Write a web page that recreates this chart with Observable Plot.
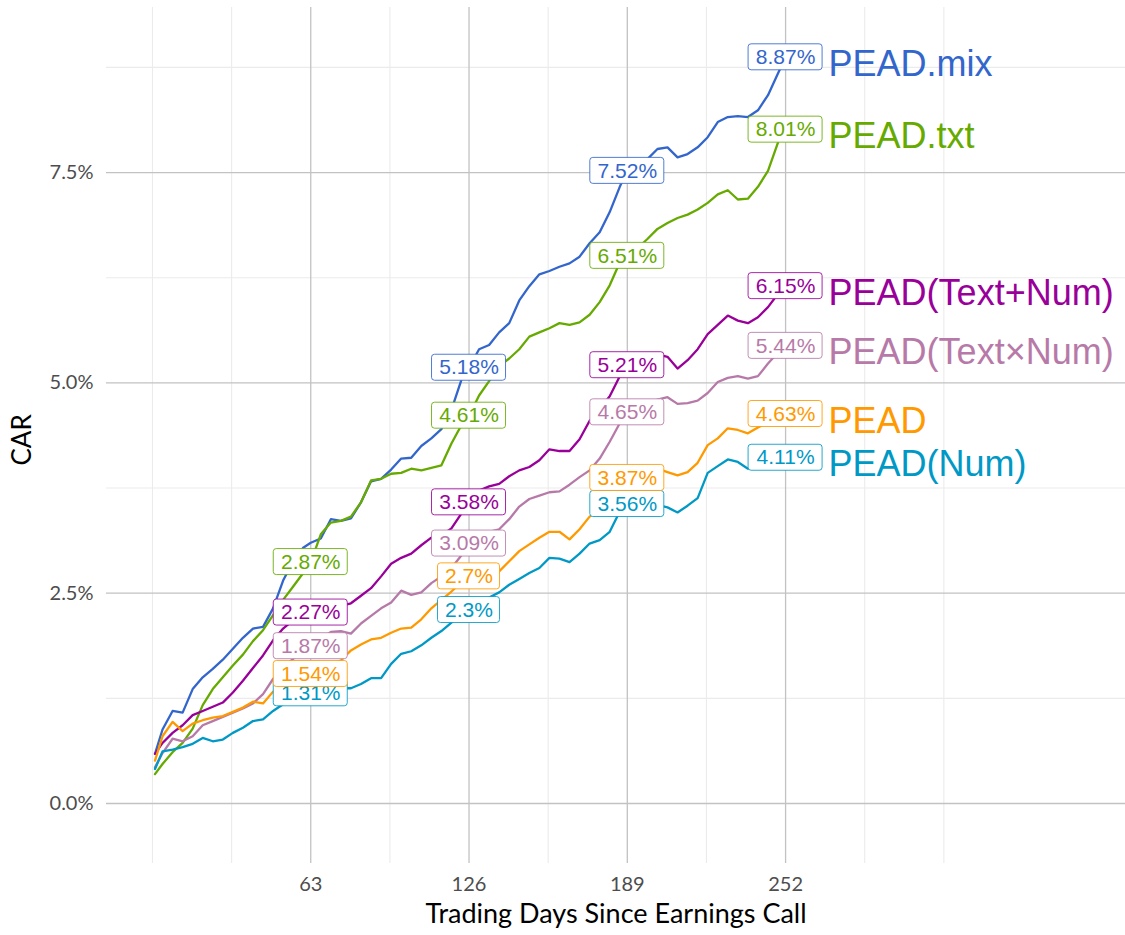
<!DOCTYPE html>
<html><head><meta charset="utf-8">
<script src="https://cdn.jsdelivr.net/npm/d3@7"></script>
<script src="https://cdn.jsdelivr.net/npm/@observablehq/plot@0.6"></script>
<style>body{margin:0;background:#fff}</style>
</head><body><div id="chart"></div>
<script>
// ---- data ----
const days = [1,4,8,12,16,20,24,28,32,36,40,44,48,52,56,60,63,67,71,75,79,83,87,91,95,99,103,107,111,115,119,123,126,130,134,138,142,146,150,154,158,162,166,170,174,178,182,186,189,193,197,201,205,209,213,217,221,225,229,233,237,241,245,249,252];

const seriesNames = ["PEAD.mix","PEAD.txt","PEAD(Text+Num)","PEAD(Text×Num)","PEAD","PEAD(Num)"];
const seriesColors = ["#3366CC","#66AA00","#990099","#B77AA8","#FF9900","#0099C6"];

const mixVals = [0.59,0.88,1.10,1.08,1.36,1.50,1.60,1.71,1.84,1.97,2.08,2.10,2.32,2.65,2.88,3.04,
  3.10,
  3.15,3.38,3.36,3.39,3.58,3.83,3.86,3.97,4.10,4.11,4.25,4.34,4.45,4.68,5.04,
  5.18,
  5.40,5.45,5.60,5.71,5.98,6.15,6.29,6.33,6.38,6.42,6.50,6.66,6.79,7.03,7.33,
  7.52,
  7.62,7.66,7.78,7.80,7.68,7.72,7.80,7.92,8.10,8.16,8.17,8.16,8.24,8.42,8.68,
  8.87];
const txtVals = [0.35,0.47,0.61,0.72,0.89,1.17,1.36,1.50,1.64,1.77,1.93,2.06,2.24,2.42,2.58,2.74,
  2.87,
  3.20,3.34,3.36,3.41,3.58,3.84,3.86,3.92,3.93,3.98,3.96,3.99,4.02,4.28,4.50,
  4.61,
  4.85,5.02,5.20,5.29,5.40,5.55,5.60,5.65,5.71,5.69,5.72,5.81,5.96,6.16,6.43,
  6.51,
  6.60,6.71,6.83,6.90,6.96,7.00,7.06,7.14,7.24,7.29,7.18,7.19,7.33,7.52,7.86,
  8.01];
const textPlusNumVals = [0.59,0.72,0.84,0.93,1.05,1.10,1.15,1.20,1.32,1.46,1.61,1.76,1.94,2.08,2.18,2.24,
  2.27,
  2.30,2.33,2.35,2.38,2.47,2.56,2.70,2.85,2.92,2.97,3.07,3.16,3.19,3.27,3.45,
  3.58,
  3.72,3.77,3.80,3.89,3.96,4.00,4.08,4.21,4.19,4.19,4.33,4.55,4.69,4.84,5.08,
  5.21,
  5.26,5.30,5.34,5.31,5.17,5.27,5.40,5.58,5.69,5.80,5.74,5.71,5.78,5.90,6.06,
  6.15];
const textTimesNumVals = [0.43,0.60,0.77,0.74,0.80,0.93,0.98,1.03,1.08,1.13,1.19,1.30,1.48,1.62,1.72,1.81,
  1.87,
  1.95,2.04,2.05,2.02,2.14,2.23,2.32,2.39,2.53,2.48,2.51,2.62,2.70,2.80,2.95,
  3.09,
  3.18,3.23,3.26,3.38,3.53,3.62,3.66,3.70,3.71,3.79,3.88,3.96,4.10,4.30,4.52,
  4.65,
  4.70,4.76,4.80,4.83,4.75,4.76,4.79,4.88,5.01,5.06,5.08,5.05,5.08,5.23,5.36,
  5.44];
const peadVals = [0.51,0.80,0.97,0.86,0.95,0.99,1.02,1.04,1.09,1.14,1.21,1.19,1.33,1.40,1.45,1.50,
  1.54,
  1.60,1.66,1.70,1.82,1.89,1.95,1.97,2.03,2.08,2.09,2.19,2.32,2.42,2.52,2.63,
  2.70,
  2.66,2.70,2.76,2.88,3.00,3.08,3.16,3.23,3.23,3.14,3.26,3.41,3.49,3.62,3.78,
  3.87,
  3.92,3.96,3.98,3.94,3.90,3.94,4.05,4.26,4.34,4.46,4.44,4.40,4.47,4.53,4.58,
  4.63];
const numVals = [0.41,0.62,0.64,0.67,0.71,0.78,0.74,0.76,0.84,0.90,0.98,1.00,1.10,1.18,1.23,1.28,
  1.31,
  1.33,1.35,1.37,1.37,1.42,1.49,1.49,1.66,1.78,1.81,1.88,1.97,2.05,2.15,2.24,
  2.30,
  2.36,2.45,2.51,2.60,2.67,2.74,2.80,2.92,2.91,2.87,2.97,3.09,3.13,3.23,3.47,
  3.56,
  3.58,3.60,3.55,3.52,3.46,3.54,3.63,3.93,4.01,4.09,4.06,3.98,3.98,4.03,4.08,
  4.11];

// boxed value labels at these days (null = no label)
const labelDays = [63,126,189,252];
const mixLabels = [null,5.18,7.52,8.87];
const txtLabels = [2.87,4.61,6.51,8.01];
const textPlusNumLabels = [2.27,3.58,5.21,6.15];
const textTimesNumLabels = [1.87,3.09,4.65,5.44];
const peadLabels = [1.54,2.70,3.87,4.63];
const numLabels = [1.31,2.30,3.56,4.11];

const xTicks = [63,126,189,252];
const xMinor = [0,31.5,94.5,157.5,220.5,283.5,315];
const yTicks = [0,2.5,5,7.5];
const yMinor = [1.25,3.75,6.25,8.75];

// ---- build tables ----
const allVals = [mixVals,txtVals,textPlusNumVals,textTimesNumVals,peadVals,numVals];
const allLabels = [mixLabels,txtLabels,textPlusNumLabels,textTimesNumLabels,peadLabels,numLabels];
const rows = [];
seriesNames.forEach((s,i)=>allVals[i].forEach((v,j)=>rows.push({series:s, day:days[j], v})));
const labelRows = seriesNames.map((s,i)=>allLabels[i].map((v,j)=>v==null?null:({series:s, day:labelDays[j], v, text:(+v.toFixed(2))+"%"})).filter(d=>d));
const endRows = seriesNames.map((s,i)=>({series:s, day:252, v:allLabels[i][3]}));

const labelFont = "'Liberation Sans', Arial, sans-serif";
const labelMarks = [];
for (let i = seriesNames.length-1; i >= 0; i--) {
  const L = labelRows[i];
  [[5,-37],[4,-31]].forEach(([len,ins])=>{
    labelMarks.push(Plot.rect(L.filter(d=>d.text.length===len), {
      x1:"day", x2:"day", y1:"v", y2:"v",
      insetLeft:ins, insetRight:ins, insetTop:-13, insetBottom:-13,
      rx:3, fill:"white", stroke:"series", strokeWidth:1, strokeOpacity:0.85
    }));
  });
  labelMarks.push(Plot.text(L, {x:"day", y:"v", text:"text", fill:"series", fontSize:21, fontFamily:labelFont}));
}

const chart = Plot.plot({
  width:1125, height:935,
  marginLeft:106, marginRight:0, marginTop:7, marginBottom:72,
  style:{fontFamily:"Lato, sans-serif", fontSize:"20px", color:"#4d4d4d", background:"white"},
  x:{domain:[-18.3,387.3], ticks:xTicks, tickSize:0, tickPadding:13, label:null},
  y:{domain:[-0.713,9.462], ticks:yTicks, tickFormat:d=>d.toFixed(1)+"%", tickSize:0, tickPadding:13, label:null},
  color:{domain:seriesNames, range:seriesColors},
  marks:[
    Plot.ruleX(xMinor, {stroke:"#ebebeb", strokeWidth:1.1}),
    Plot.ruleY(yMinor, {stroke:"#ebebeb", strokeWidth:1.1}),
    Plot.ruleX(xTicks, {stroke:"#c2c2c2", strokeWidth:1.3}),
    Plot.ruleY(yTicks, {stroke:"#c2c2c2", strokeWidth:1.3}),
    Plot.line(rows, {x:"day", y:"v", z:"series", stroke:"series", strokeWidth:2.3, strokeLinejoin:"round"}),
    ...labelMarks,
    Plot.text(endRows, {x:"day", y:"v", text:"series", fill:"series", textAnchor:"start", dx:43, dy:7, fontSize:36, fontFamily:labelFont}),
    Plot.text(["Trading Days Since Earnings Call"], {frameAnchor:"bottom", dy:59, fontSize:27, fill:"black"}),
    Plot.text(["CAR"], {frameAnchor:"left", dx:-84, dy:30, rotate:-90, fontSize:26, fill:"black"})
  ]
});
document.getElementById("chart").append(chart);
</script>
</body></html>
